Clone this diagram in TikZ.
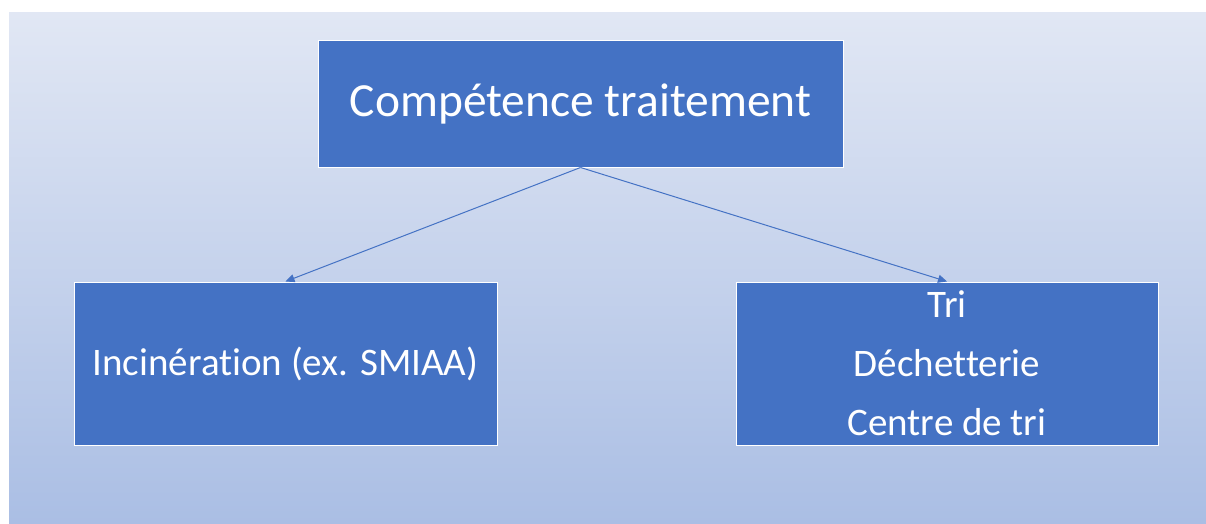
\documentclass[tikz,border=0pt]{standalone}
\usepackage{fontspec}
\setmainfont[Ligatures={NoCommon}]{Carlito}
\usetikzlibrary{arrows.meta}
\definecolor{boxblue}{HTML}{4472C4}
\definecolor{bgtop}{HTML}{E1E7F4}
\definecolor{bgbottom}{HTML}{AABEE4}
\begin{document}
\begin{tikzpicture}[
      x=1pt, y=-1pt,
      box/.style={rectangle, draw=white, line width=1pt, fill=boxblue, text=white,
        inner sep=0pt, align=center},
      link/.style={draw=boxblue, line width=1pt, -{Triangle[length=9pt,width=8pt]}}
      ]
      \useasboundingbox (0,0) rectangle (1206,524);
      \shade[top color=bgtop, bottom color=bgbottom] (9,13) rectangle (1206,524);
      % top node
      \node[box, minimum width=525pt, minimum height=126pt,
        font=\fontsize{47.5}{57}\selectfont] (comp) at (580.5,104) {Compétence traitement};
      % children
      \node[box, minimum width=423pt, minimum height=163pt,
        font=\fontsize{39}{59}\selectfont] (incin) at (285.5,363.5) {Incinération (ex. SMIAA)};
      \node[box, minimum width=422pt, minimum height=163pt,
        font=\fontsize{39}{59}\selectfont] (tri) at (947,363.5) {Tri\\Déchetterie\\Centre de tri};
      \draw[link] (comp.south) -- (incin.north);
      \draw[link] (comp.south) -- (tri.north);
    \end{tikzpicture}
\end{document}
